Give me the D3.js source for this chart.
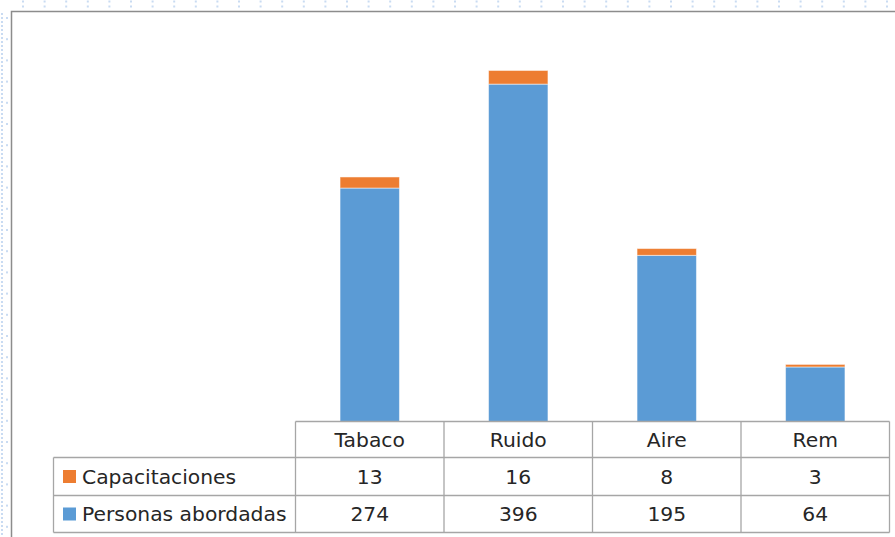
<!DOCTYPE html>
<html><head><meta charset="utf-8">
<script src="https://cdn.jsdelivr.net/npm/d3@7/dist/d3.min.js"></script>
<style>html,body{margin:0;padding:0;background:#fff;overflow:hidden}svg{display:block}</style>
</head><body>
<script>
const categories = ["Tabaco", "Ruido", "Aire", "Rem"];
const seriesNames = ["Capacitaciones", "Personas abordadas"];
const capacitaciones = [13, 16, 8, 3];
const personas = [274, 396, 195, 64];
const colors = {"Personas abordadas": "#5B9BD5", "Capacitaciones": "#ED7D31"};

const W = 895, H = 537;
const svg = d3.select("body").append("svg").attr("width", W).attr("height", H);
const font = "'DejaVu Sans', sans-serif";

// background dotted grid (document canvas)
const dotCol = "#c9dbf2";
const topDots = d3.range(23, W, 21.6);
svg.selectAll(".td1").data(topDots).enter().append("rect")
  .attr("x", d => d - 1).attr("y", 0.5).attr("width", 2).attr("height", 2).attr("fill", dotCol);
svg.selectAll(".td2").data(topDots).enter().append("rect")
  .attr("x", d => d - 1).attr("y", 5.5).attr("width", 2).attr("height", 2).attr("fill", dotCol);
svg.selectAll(".ld1").data(d3.range(13, H, 4)).enter().append("rect")
  .attr("x", 1).attr("y", d => d).attr("width", 2).attr("height", 2).attr("fill", dotCol);
svg.selectAll(".ld2").data(d3.range(17, H, 21.2)).enter().append("rect")
  .attr("x", 6).attr("y", d => d).attr("width", 2).attr("height", 2).attr("fill", dotCol);

// chart frame
svg.append("path").attr("d", `M11.5,${H} V11.5 H${W}`)
  .attr("fill", "none").attr("stroke", "#8c8c8c").attr("stroke-width", 1.5);

// scales
const x = d3.scaleBand().domain(categories).range([295.5, 889.5]).padding(0);
const baseY = 421.5;
const y = d3.scaleLinear().domain([0, 450]).range([baseY, baseY - 450 * 0.852]);
const bw = x.bandwidth() * 0.4;

const data = categories.map((c, i) => ({cat: c, "Personas abordadas": personas[i], "Capacitaciones": capacitaciones[i]}));
const stack = d3.stack().keys(["Personas abordadas", "Capacitaciones"])(data);

svg.append("g").selectAll("g").data(stack).enter().append("g")
  .attr("fill", d => colors[d.key])
  .selectAll("rect").data(d => d).enter().append("rect")
  .attr("x", d => x(d.data.cat) + (x.bandwidth() - bw) / 2)
  .attr("width", bw)
  .attr("y", d => y(d[1]))
  .attr("height", d => y(d[0]) - y(d[1]))
  .attr("stroke", "rgba(255,255,255,0.5)").attr("stroke-width", 1);

// data table
const lineCol = "#a6a6a6";
const rowY = [421.5, 457.5, 495.5, 532.5];
const legX0 = 53.5, tx0 = 295.5, tx1 = 889.5;
const g = svg.append("g").attr("stroke", lineCol).attr("stroke-width", 1.3).attr("fill", "none");
g.append("line").attr("x1", tx0).attr("x2", tx1).attr("y1", rowY[0]).attr("y2", rowY[0]);
[1, 2, 3].forEach(k => g.append("line").attr("x1", legX0).attr("x2", tx1).attr("y1", rowY[k]).attr("y2", rowY[k]));
g.append("line").attr("x1", legX0).attr("x2", legX0).attr("y1", rowY[1]).attr("y2", rowY[3]);
categories.concat([null]).forEach((c, i) => {
  const xx = c ? x(c) : tx1;
  g.append("line").attr("x1", xx).attr("x2", xx).attr("y1", rowY[0]).attr("y2", rowY[3]);
});

const txt = svg.append("g").attr("font-family", font).attr("font-size", 20.3).attr("fill", "#262626");
categories.forEach(c => {
  txt.append("text").attr("x", x(c) + x.bandwidth() / 2).attr("y", (rowY[0] + rowY[1]) / 2)
    .attr("dy", "0.36em").attr("text-anchor", "middle").text(c);
});
const rows = [capacitaciones, personas];
rows.forEach((vals, r) => {
  const cy = (rowY[r + 1] + rowY[r + 2]) / 2;
  vals.forEach((v, i) => {
    txt.append("text").attr("x", x(categories[i]) + x.bandwidth() / 2).attr("y", cy)
      .attr("dy", "0.36em").attr("text-anchor", "middle").text(v);
  });
  svg.append("rect").attr("x", 63).attr("y", cy - 6.5).attr("width", 13).attr("height", 13)
    .attr("fill", colors[seriesNames[r]]);
  txt.append("text").attr("x", 82).attr("y", cy).attr("dy", "0.36em").text(seriesNames[r]);
});
</script>
</body></html>
